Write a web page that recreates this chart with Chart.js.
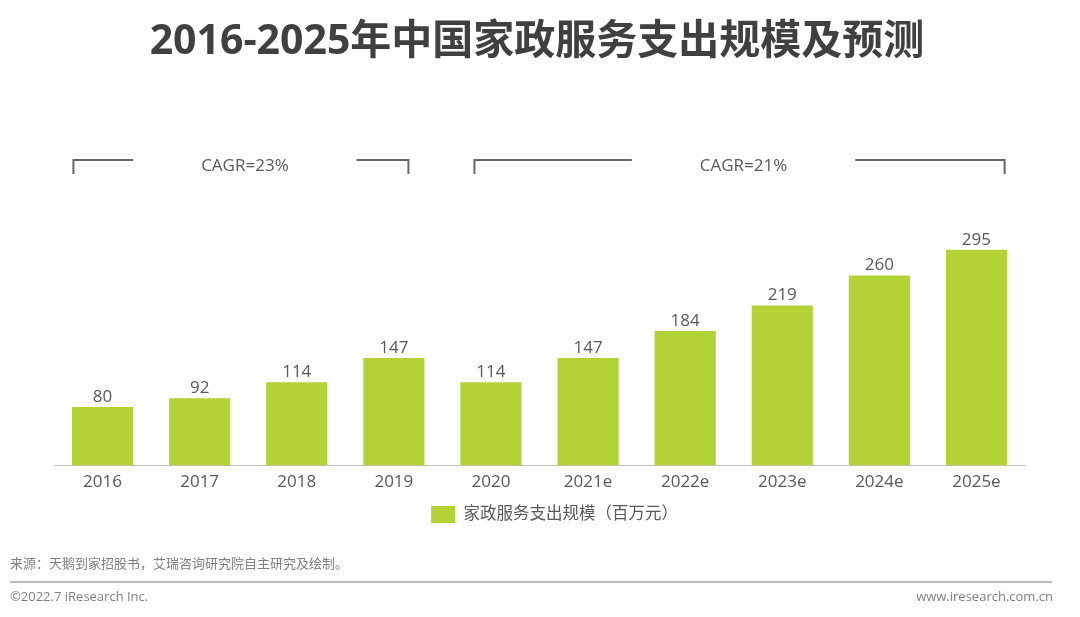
<!DOCTYPE html>
<html>
<head>
<meta charset="utf-8">
<script src="https://cdn.jsdelivr.net/npm/chart.js@4.4.0/dist/chart.umd.min.js"></script>
<style>
html,body{margin:0;padding:0;background:#fff;}
#wrap{position:relative;width:1080px;height:617px;}
</style>
</head>
<body>
<div id="wrap"><canvas id="c" width="1080" height="617"></canvas></div>
<script>
const categories = ['2016','2017','2018','2019','2020','2021e','2022e','2023e','2024e','2025e'];
const values = [80, 92, 114, 147, 114, 147, 184, 219, 260, 295];
const seriesName = '家政服务支出规模（百万元）';
const cagrLabels = ['CAGR=23%', 'CAGR=21%'];
const titleText = '2016-2025年中国家政服务支出规模及预测';
const sourceText = '来源：天鹅到家招股书，艾瑞咨询研究院自主研究及绘制。';
const copyText = '©2022.7 iResearch Inc.';
const siteText = 'www.iresearch.com.cn';

const FONT = "'Open Sans', 'Noto Sans CJK SC', sans-serif";
const GRAY = '#595959';
const GREEN = '#b2d235';

const legendShift = {
  id: 'legendShift',
  afterLayout(chart) {
    if (chart.legend) { chart.legend.left += 15; chart.legend.right += 15; }
  }
};

const decor = {
  id: 'decor',
  afterDraw(chart) {
    const ctx = chart.ctx;
    const xs = chart.scales.x;
    const meta = chart.getDatasetMeta(0);
    ctx.save();
    // title
    ctx.fillStyle = '#404040';
    ctx.font = "bold 41px " + FONT;
    ctx.textAlign = 'center';
    ctx.textBaseline = 'alphabetic';
    ctx.fillText(titleText, 537, 54);

    // data labels
    ctx.font = "17px " + FONT;
    ctx.fillStyle = GRAY;
    meta.data.forEach((bar, i) => {
      ctx.fillText(String(values[i]), bar.x, bar.y - 5);
    });

    // CAGR brackets
    const brackets = [[-0.3, 3.15, cagrLabels[0]], [3.83, 9.29, cagrLabels[1]]];
    ctx.strokeStyle = '#666666';
    ctx.lineWidth = 2;
    ctx.font = "17px " + FONT;
    ctx.textBaseline = 'middle';
    const yTop = 160, yBot = 174;
    brackets.forEach(([a, b, label]) => {
      const x1 = xs.getPixelForValue(a);
      const x2 = xs.getPixelForValue(b);
      const mid = (x1 + x2) / 2 + 4;
      const w = ctx.measureText(label).width;
      ctx.fillText(label, mid, 166);
      const g = 68;
      ctx.beginPath();
      ctx.moveTo(x1, yBot); ctx.lineTo(x1, yTop); ctx.lineTo(mid - w / 2 - g, yTop);
      ctx.moveTo(mid + w / 2 + g, yTop); ctx.lineTo(x2, yTop); ctx.lineTo(x2, yBot);
      ctx.stroke();
    });

    // footer
    ctx.textBaseline = 'middle';
    ctx.textAlign = 'left';
    ctx.fillStyle = '#7f7f7f';
    ctx.font = "13px " + FONT;
    ctx.fillText(sourceText, 10, 564);
    ctx.strokeStyle = '#a6a6a6';
    ctx.lineWidth = 1.5;
    ctx.beginPath(); ctx.moveTo(10, 582); ctx.lineTo(1052, 582); ctx.stroke();
    ctx.font = "13px " + FONT;
    ctx.fillText(copyText, 10, 597);
    ctx.textAlign = 'right';
    ctx.fillText(siteText, 1053, 597);
    ctx.restore();
  }
};

new Chart(document.getElementById('c'), {
  type: 'bar',
  data: {
    labels: categories,
    datasets: [{
      label: seriesName,
      data: values,
      backgroundColor: GREEN,
      borderWidth: 0,
      categoryPercentage: 1,
      barPercentage: 0.63
    }]
  },
  options: {
    responsive: false,
    animation: false,
    layout: { padding: { left: 54, right: 55, top: 173, bottom: 84 } },
    plugins: {
      legend: {
        position: 'bottom',
        labels: {
          boxWidth: 24, boxHeight: 17, padding: 8,
          color: GRAY,
          font: { size: 16.5, family: FONT }
        }
      },
      tooltip: { enabled: false },
      title: { display: false }
    },
    scales: {
      x: {
        grid: { display: false, drawTicks: false },
        border: { display: true, color: '#bfbfbf', width: 1 },
        ticks: { color: GRAY, padding: 6, font: { size: 17, family: FONT } }
      },
      y: {
        display: false,
        min: 0, max: 400
      }
    }
  },
  plugins: [legendShift, decor]
});
</script>
</body>
</html>
